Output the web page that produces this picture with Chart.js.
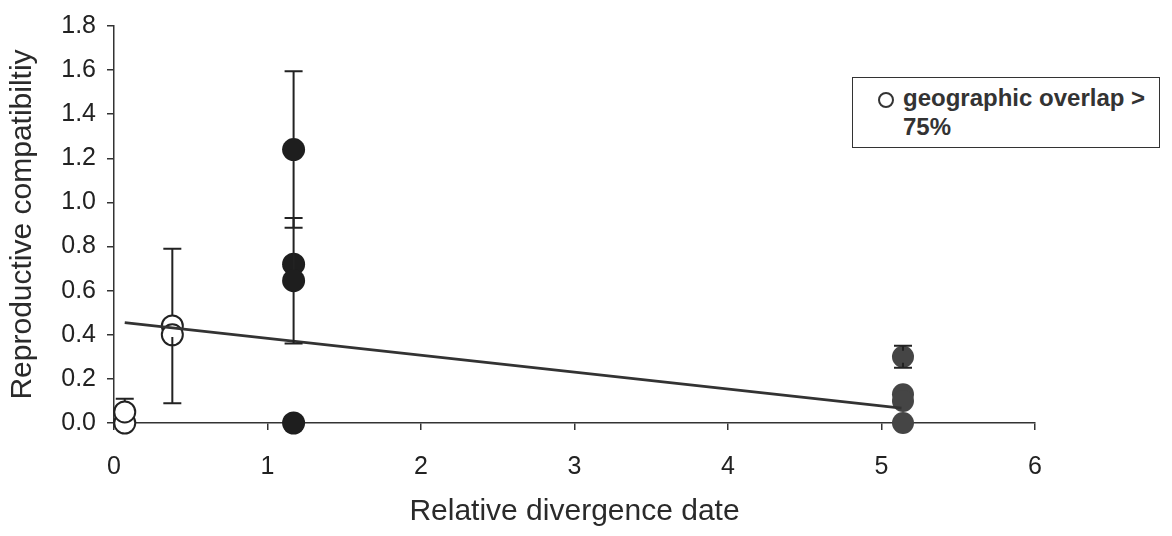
<!DOCTYPE html>
<html>
<head>
<meta charset="utf-8">
<script src="https://cdn.jsdelivr.net/npm/chart.js@4.4.1/dist/chart.umd.min.js"></script>
<style>
  body { margin: 0; background: #fff; }
  #wrap { position: relative; width: 1172px; height: 536px; }
  #key {
    position: absolute; left: 852px; top: 77px; width: 306px; height: 69px;
    border: 1.5px solid #333; background: #fff;
    font-family: "Liberation Sans", Arial, sans-serif; font-weight: bold;
    font-size: 24px; color: #333; line-height: 29px;
  }
  #key .dot {
    position: absolute; left: 25px; top: 14px; width: 12px; height: 12px;
    border: 2px solid #333; border-radius: 50%;
  }
  #key .txt { position: absolute; left: 50px; top: 5px; }
</style>
</head>
<body>
<div id="wrap">
  <canvas id="chart"></canvas>
  <div id="key"><span class="dot"></span><span class="txt">geographic overlap &gt;<br>75%</span></div>
</div>
<script>
// valeurs
const overlapX = [0.07, 0.07, 0.38, 0.38];
const overlapY = [0.0, 0.05, 0.44, 0.40];
const overlapErr = [0, 0.06, 0.35, 0];

const midX = [1.17, 1.17, 1.17, 1.17];
const midY = [1.24, 0.72, 0.645, 0.0];
const midErr = [0.355, 0, 0.285, 0];

const farX = [5.14, 5.14, 5.14, 5.14];
const farY = [0.30, 0.13, 0.10, 0.0];
const farErr = [0.05, 0, 0, 0];

const fitX = [0.07, 5.13];
const fitY = [0.455, 0.067];

const xTicks = [0, 1, 2, 3, 4, 5, 6];
const yTicks = [0, 0.2, 0.4, 0.6, 0.8, 1.0, 1.2, 1.4, 1.6, 1.8];

const pts = (xs, ys) => xs.map((x, i) => ({x: x, y: ys[i]}));

// barres d'erreur dessinées à partir des échelles
const errorSets = [
  {xs: overlapX, ys: overlapY, errs: overlapErr, r: 11},
  {xs: midX, ys: midY, errs: midErr, r: 11},
  {xs: farX, ys: farY, errs: farErr, r: 6}
];

const errorBars = {
  id: "errorBars",
  afterDatasetsDraw(chart) {
    const {ctx, scales: {x, y}} = chart;
    ctx.save();
    ctx.strokeStyle = "#222";
    ctx.lineWidth = 2;
    errorSets.forEach(s => {
      s.xs.forEach((xv, i) => {
        const e = s.errs[i];
        if (!e) return;
        const px = x.getPixelForValue(xv);
        const pc = y.getPixelForValue(s.ys[i]);
        const top = y.getPixelForValue(s.ys[i] + e);
        const bot = y.getPixelForValue(s.ys[i] - e);
        ctx.beginPath();
        ctx.moveTo(px, pc - s.r); ctx.lineTo(px, top);
        ctx.moveTo(px - 9, top); ctx.lineTo(px + 9, top);
        if (bot < y.bottom + 1) {
          ctx.moveTo(px, pc + s.r); ctx.lineTo(px, bot);
          ctx.moveTo(px - 9, bot); ctx.lineTo(px + 9, bot);
        }
        ctx.stroke();
      });
    });
    ctx.restore();
  }
};

const fam = "'Liberation Sans', Arial, sans-serif";
const tickFont = {family: fam, size: 25};

new Chart(document.getElementById("chart"), {
  type: "scatter",
  data: {
    datasets: [
      {
        label: "fit", type: "line", data: pts(fitX, fitY), order: 0,
        borderColor: "#333", borderWidth: 2.8, pointRadius: 0, fill: false
      },
      {
        label: "overlap", data: pts(overlapX, overlapY), order: 1, clip: false,
        pointRadius: 10.5, pointBackgroundColor: "#fff",
        pointBorderColor: "#222", pointBorderWidth: 2
      },
      {
        label: "mid", data: pts(midX, midY), order: 2, clip: false,
        pointRadius: 11.5, pointBackgroundColor: "#1e1e1e",
        pointBorderColor: "#1e1e1e", pointBorderWidth: 0
      },
      {
        label: "far", data: pts(farX, farY), order: 3, clip: false,
        pointRadius: 11, pointBackgroundColor: "#454545",
        pointBorderColor: "#454545", pointBorderWidth: 0
      }
    ]
  },
  options: {
    responsive: true,
    maintainAspectRatio: false,
    animation: false,
    layout: {padding: {top: 10, right: 137, left: 0, bottom: 0}},
    plugins: {legend: {display: false}, tooltip: {enabled: false}},
    scales: {
      x: {
        type: "linear", min: 0, max: 6,
        afterBuildTicks: s => { s.ticks = xTicks.map(v => ({value: v})); },
        afterFit: s => { s.height = 113; },
        grid: {drawOnChartArea: false, tickLength: 7, color: "#333", lineWidth: 1.5},
        border: {color: "#333", width: 1.5},
        ticks: {font: tickFont, color: "#222", padding: 22},
        title: {
          display: true, text: "Relative divergence date", color: "#2a2a2a",
          font: {family: fam, size: 30},
          padding: {top: 0, bottom: 6}
        }
      },
      y: {
        min: 0, max: 1.8,
        afterBuildTicks: s => { s.ticks = yTicks.map(v => ({value: v})); },
        afterFit: s => { s.width = 114; },
        grid: {drawOnChartArea: false, tickLength: 7, color: "#333", lineWidth: 1.5},
        border: {color: "#333", width: 1.5},
        ticks: {font: tickFont, color: "#222", padding: 11, callback: v => v.toFixed(1)},
        title: {
          display: true, text: "Reproductive compatibiltiy", color: "#2a2a2a",
          font: {family: fam, size: 30},
          padding: {top: 5, bottom: 0}
        }
      }
    }
  },
  plugins: [errorBars]
});
</script>
</body>
</html>
